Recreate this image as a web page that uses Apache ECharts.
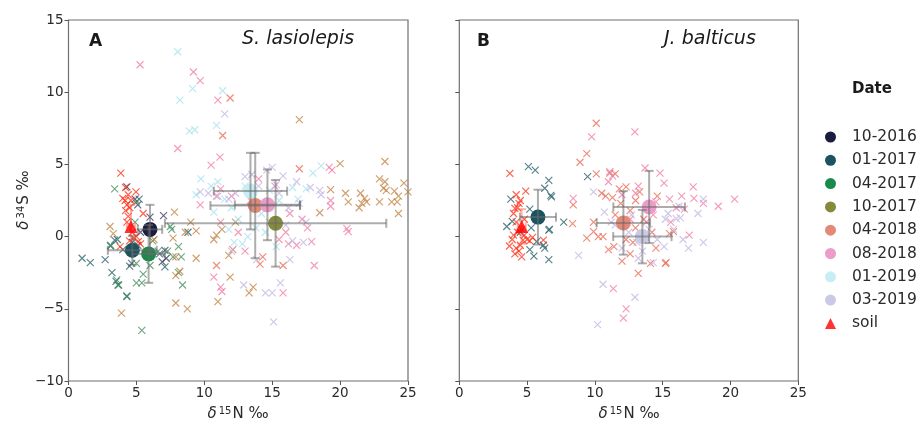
<!DOCTYPE html>
<html><head><meta charset="utf-8">
<script src="https://cdn.jsdelivr.net/npm/echarts@6/dist/echarts.min.js"></script>
<style>html,body{margin:0;padding:0;background:#fff}#c{width:917px;height:423px}</style>
</head><body><div id="c"></div>
<script>
// ---------- data ----------
const dates = ['10-2016','01-2017','04-2017','10-2017','04-2018','08-2018','01-2019','03-2019','soil'];
const meanColors = ['#1b1d3e','#1b5460','#1a8a4a','#858a3c','#e48878','#eb9cc8','#c8eef4','#cacae6','#ff0000'];
const pointColors = ['#2f3258','#1d5a64','#3f8c58','#c27f3e','#e8654f','#f07aa0','#a4e0ee','#c2b4e2','#ff2a10'];
const xTicks = [0,5,10,15,20,25];
const yTicks = [-10,-5,0,5,10,15];

// Panel A individual samples [d15N, d34S]
const A_1016 = [[4.3,3.45],[5.1,2.2],[4.9,2.6],[6.0,1.35],[7.0,1.45],[7.1,-0.95],[7.2,-1.5],[6.9,-1.75],[5.3,0.3],[4.7,-0.4]];
const A_0117 = [[1.0,-1.5],[1.6,-1.8],[2.7,-1.6],[3.2,-2.5],[3.5,-3.1],[3.65,-3.35],[4.3,-4.15],[3.1,-0.65],[3.4,-0.25],[3.6,-0.2],[4.65,-1.85],[4.5,-2.05],[5.2,2.6],[7.1,-2.1],[8.8,0.3],[4.0,-0.9],[5.1,-0.6],[6.7,-1.2]];
const A_0417 = [[3.4,3.3],[3.1,-0.6],[5.4,-6.5],[7.7,-1.4],[8.3,-1.4],[8.1,-0.7],[7.6,0.5],[8.4,-3.35],[5.0,-1.85],[5.5,-2.6],[5.4,-3.2],[5.0,-3.2],[3.55,-3.0],[3.7,-3.35],[4.3,-4.1],[5.0,2.4],[4.9,1.0],[7.5,0.7],[6.2,-0.3],[6.6,-1.0],[7.3,-1.0],[6.0,-2.0],[8.1,-2.5]];
const A_1017 = [[17.0,8.1],[20.0,5.05],[23.3,5.2],[22.9,4.0],[23.3,3.8],[23.2,3.35],[23.4,3.2],[24.7,3.7],[24.0,3.15],[24.3,2.8],[24.2,2.4],[23.8,2.4],[22.9,2.4],[24.3,1.6],[25.0,3.1],[21.5,3.0],[21.8,2.65],[21.95,2.4],[21.6,2.3],[21.4,2.0],[20.4,3.0],[20.6,2.4],[19.3,3.25],[18.5,1.65],[10.7,-0.2],[10.9,0.1],[11.8,-1.3],[11.9,-2.8],[11.0,-4.5],[13.3,-3.9],[7.8,1.7],[7.7,-0.1],[7.9,-1.4],[8.2,-2.4],[7.9,-2.7],[7.9,-4.6],[8.75,-5.0],[9.4,0.4],[9.4,-1.5],[3.06,0.7],[3.3,0.2],[3.9,-5.3],[6.3,-0.2],[11.3,0.5],[9.0,1.0],[12.3,1.0],[13.6,-3.5],[8.6,0.3]];
const A_0418 = [[11.9,9.6],[11.35,7.0],[14.3,-1.4],[14.1,-1.9],[15.8,-2.0],[12.1,-0.9],[17.0,4.7],[10.9,-2.0]];
const A_0818 = [[5.27,11.9],[9.2,11.4],[9.7,10.8],[11.0,9.45],[8.04,6.1],[11.15,5.5],[10.5,4.95],[19.2,4.8],[19.4,4.6],[10.7,-2.8],[11.2,-3.5],[11.3,-3.8],[15.8,-3.9],[17.9,-0.35],[20.5,0.55],[20.6,0.35],[18.1,-2.0],[19.3,2.5],[19.3,2.1],[16.3,1.6],[9.7,2.2],[11.2,1.0],[12.0,2.8],[15.2,3.5],[16.8,-0.6],[17.6,0.6],[16.0,0.3],[13.0,-1.0],[15.5,-0.2],[10.9,2.8],[14.0,4.0],[17.2,1.2],[16.2,-0.5],[12.5,0.3],[13.4,2.5],[11.2,3.3]];
const A_0119 = [[8.04,12.8],[9.14,10.25],[8.2,9.45],[11.35,10.1],[10.9,7.7],[8.9,7.3],[9.3,7.4],[9.75,4.0],[9.4,2.9],[18.6,4.9],[18.0,4.4],[15.3,-0.7],[10.5,3.5],[11.0,3.8],[11.5,2.6],[12.0,2.0],[12.5,1.2],[13.0,3.5],[13.6,2.8],[14.2,1.6],[14.8,3.2],[15.5,2.5],[16.5,3.4],[17.5,3.3],[12.2,-0.4],[13.8,0.6],[11.8,0.5],[12.8,-0.5],[10.7,1.7],[16.9,2.6],[14.5,0.3],[13.2,0.0]];
const A_0319 = [[11.5,8.5],[9.7,3.1],[10.3,3.0],[13.0,4.15],[14.6,4.6],[15.0,4.8],[15.8,4.2],[16.8,3.8],[12.9,-3.35],[14.5,-3.9],[15.0,-3.9],[15.6,-3.2],[15.1,-5.9],[16.3,-1.6],[13.85,-1.6],[12.3,3.0],[11.8,2.6],[14.0,3.5],[15.5,3.0],[16.2,2.0],[17.0,2.3],[17.8,3.4],[18.5,3.2],[16.5,-0.3],[17.3,-0.4],[12.0,-1.0],[13.5,4.3],[16.0,0.8],[17.5,1.0],[18.6,2.9],[11.0,2.8],[14.8,1.0],[15.3,3.6]];
const A_soil = [[3.85,4.4],[4.0,2.65],[4.97,3.1],[4.17,2.5],[4.4,2.9],[4.3,2.2],[4.5,2.0],[4.4,1.4],[5.5,1.6],[4.8,-0.1],[5.15,-0.35],[3.8,-0.7],[4.2,3.4],[4.6,2.5],[4.3,1.0],[4.7,0.3],[5.0,0.0],[4.5,-0.3],[5.3,-0.5],[4.2,1.8]];

// Panel B individual samples
const B_0117 = [[5.1,4.85],[5.6,4.6],[6.6,3.9],[6.3,3.35],[6.8,2.75],[6.75,2.85],[3.8,2.6],[5.2,1.9],[3.5,0.7],[3.9,1.05],[7.7,1.0],[6.6,0.45],[6.65,0.5],[5.7,-0.35],[6.2,-0.6],[5.2,-0.9],[5.5,-1.35],[6.6,-1.6],[9.46,4.15],[4.5,0.3],[5.3,0.6],[6.3,-0.8]];
const B_0418 = [[10.1,7.85],[9.4,5.75],[8.9,5.15],[10.1,4.35],[11.1,4.4],[11.5,4.35],[8.4,2.2],[8.35,0.9],[9.9,1.0],[9.4,-0.1],[9.9,0.35],[10.25,0.0],[10.6,0.0],[11.0,-0.9],[11.4,-0.7],[12.0,-1.7],[12.3,3.45],[13.3,3.1],[13.2,-2.55],[14.1,-1.85],[15.2,-1.85],[15.25,-1.8],[15.8,0.35],[10.5,3.0],[11.3,2.7],[11.9,2.3],[12.6,1.8],[13.0,2.5],[13.6,1.2],[12.8,-0.4],[12.3,-0.2],[13.0,0.6],[14.2,0.3],[14.5,-0.8],[11.5,1.5],[12.6,-1.2],[14.6,2.8],[15.5,0.2],[10.8,2.8],[11.8,3.3]];
const B_0818 = [[12.95,7.25],[9.76,6.9],[13.7,4.75],[8.4,2.65],[11.1,4.5],[11.3,4.2],[14.8,4.4],[15.1,3.7],[17.25,3.45],[17.3,2.65],[18.0,2.3],[19.1,2.1],[20.3,2.6],[16.4,2.8],[16.96,0.1],[11.36,-3.6],[12.3,-5.0],[12.1,-5.65],[13.0,3.0],[14.5,2.4],[15.5,2.6],[16.6,1.9],[13.8,1.0],[14.3,1.5],[11.0,3.8],[12.0,2.9],[15.6,1.0],[13.2,3.5],[14.0,2.2],[16.0,2.0],[12.6,1.2]];
const B_0319 = [[9.9,3.1],[10.7,1.7],[8.8,-1.3],[10.6,-3.3],[10.2,-6.1],[12.95,-4.2],[15.4,1.6],[16.0,1.25],[16.3,1.3],[17.6,1.6],[18.0,2.6],[18.0,-0.4],[16.9,-0.8],[15.1,-0.7],[13.2,-1.5],[12.5,0.3],[13.1,-0.4],[14.0,0.5],[13.5,-1.0],[14.6,-0.2],[15.8,0.5],[16.5,-0.2],[12.0,-0.8],[11.2,1.0],[15.2,1.2],[14.3,-1.8],[16.2,2.1],[11.5,0.8],[13.8,-0.1],[12.7,1.5]];
const B_soil = [[3.73,4.38],[4.2,2.9],[4.5,2.5],[4.1,1.95],[4.9,3.15],[4.4,2.3],[4.0,1.6],[4.2,1.0],[3.7,-0.65],[4.2,-0.8],[4.1,-1.2],[4.5,-0.6],[4.7,-0.25],[5.0,-0.2],[5.2,-0.3],[4.8,0.1],[6.2,-0.25],[3.9,-0.2],[4.4,-1.0],[4.6,0.5],[4.3,0.3],[5.4,-0.05],[4.0,0.1],[4.6,-1.4],[4.3,2.0],[4.8,1.2]];

// Group means [d15N, d34S, xerr, yerr]
const A_means = {'10-2016':[6.0,0.5,0.9,1.7],'01-2017':[4.7,-0.95,1.8,1.0],'04-2017':[5.9,-1.2,1.2,2.0],'10-2017':[15.25,0.92,8.15,3.0],'04-2018':[13.75,2.15,3.3,3.65],'08-2018':[14.65,2.2,2.4,2.45],'01-2019':[13.4,3.15,2.7,2.65]};
const B_means = {'01-2017':[5.8,1.35,1.33,1.9],'04-2018':[12.1,0.95,1.97,2.2],'08-2018':[14.0,2.05,2.64,2.5],'03-2019':[13.5,0.0,2.15,1.85]};
const A_soilMean = [4.6,0.7,0.3,1.5];
const B_soilMean = [4.6,0.7,0.3,1.2];

const A_points = {'10-2016':A_1016,'01-2017':A_0117,'04-2017':A_0417,'10-2017':A_1017,'04-2018':A_0418,'08-2018':A_0818,'01-2019':A_0119,'03-2019':A_0319,'soil':A_soil};
const B_points = {'01-2017':B_0117,'04-2018':B_0418,'08-2018':B_0818,'03-2019':B_0319,'soil':B_soil};

// ---------- chart ----------
const FONT = 'DejaVu Sans';
const chart = echarts.init(document.getElementById('c'), null, {renderer:'canvas'});
const xSym = 'path://M0,0L10,10M0,10L10,0';
const minus = v => String(v).replace('-', '\u2212');

function errRender(stroke){
  return function(params, api){
    const x = api.value(0), y = api.value(1), xe = api.value(2), ye = api.value(3);
    const l = api.coord([x-xe,y]), r = api.coord([x+xe,y]);
    const t = api.coord([x,y+ye]), b = api.coord([x,y-ye]);
    const cap = 4.5;
    const st = {stroke: stroke, lineWidth: 2, fill: null};
    const L = (x1,y1,x2,y2) => ({type:'line', shape:{x1,y1,x2,y2}, style: st});
    return {type:'group', children:[
      L(l[0],l[1],r[0],r[1]), L(l[0],l[1]-cap,l[0],l[1]+cap), L(r[0],r[1]-cap,r[0],r[1]+cap),
      L(t[0],t[1],b[0],b[1]), L(t[0]-cap,t[1],t[0]+cap,t[1]), L(b[0]-cap,b[1],b[0]+cap,b[1])
    ]};
  };
}

const series = [];
[[A_points,0],[B_points,1]].forEach(([pts,gi])=>{
  dates.forEach((d,i)=>{
    if(!pts[d]) return;
    series.push({type:'scatter', name:'pts '+d, xAxisIndex:gi, yAxisIndex:gi, data:pts[d],
      symbol:xSym, symbolSize:7, z:2, silent:true,
      itemStyle:{color:'none', borderColor:pointColors[i], borderWidth:1.15, opacity:0.75}});
  });
});
[[A_means,A_soilMean,0],[B_means,B_soilMean,1]].forEach(([means,soil,gi])=>{
  dates.forEach((d,i)=>{
    if(d==='soil'){
      series.push({type:'scatter', name:'soil', xAxisIndex:gi, yAxisIndex:gi, data:[[soil[0],soil[1]]],
        symbol:'triangle', symbolSize:13, z:5, itemStyle:{color:meanColors[i]}});
      series.push({type:'custom', name:'soil err', xAxisIndex:gi, yAxisIndex:gi, data:[soil], z:4,
        encode:{x:0,y:1}, renderItem: errRender('rgba(255,90,70,0.45)')});
      return;
    }
    if(!means[d]) return;
    const m = means[d];
    series.push({type:'scatter', name:d, xAxisIndex:gi, yAxisIndex:gi, data:[[m[0],m[1]]],
      symbol:'circle', symbolSize:15, z:5, itemStyle:{color:meanColors[i], opacity:1}});
    series.push({type:'custom', name:'err '+d, xAxisIndex:gi, yAxisIndex:gi, data:[m], z:6,
      encode:{x:0,y:1}, renderItem: errRender('rgba(105,105,105,0.55)')});
  });
});

const axisCommon = {
  min:0, max:25, interval:5,
  axisLine:{show:false, onZero:false}, splitLine:{show:false},
  axisTick:{show:true, inside:false, length:4, lineStyle:{color:'#555', width:1}},
  axisLabel:{fontFamily:FONT, fontSize:13.5, color:'#2a2a2a', margin:5, formatter:minus}
};
const yCommon = Object.assign({}, axisCommon, {min:-10, max:15, interval:5});

const richLabel = {
  d:{fontFamily:FONT, fontSize:15, fontStyle:'italic', fill:'#2a2a2a', verticalAlign:'bottom'},
  s:{fontFamily:FONT, fontSize:10, fill:'#2a2a2a', verticalAlign:'top', padding:[0,1,0,2]},
  n:{fontFamily:FONT, fontSize:15, fill:'#2a2a2a', verticalAlign:'bottom'}
};

const option = {
  backgroundColor:'#fff',
  animation:false,
  textStyle:{fontFamily:FONT},
  grid:[
    {left:68.5, top:20, width:339.5, height:361, show:true, borderColor:'#6f6f6f', borderWidth:1.2, backgroundColor:'transparent'},
    {left:459.3, top:20, width:339, height:361, show:true, borderColor:'#6f6f6f', borderWidth:1.2, backgroundColor:'transparent'}
  ],
  xAxis:[Object.assign({gridIndex:0,type:'value',position:'bottom'}, axisCommon), Object.assign({gridIndex:1,type:'value',position:'bottom'}, axisCommon)],
  yAxis:[
    Object.assign({gridIndex:0,type:'value',position:'left'}, yCommon),
    Object.assign({gridIndex:1,type:'value',position:'left'}, yCommon, {axisLabel:{show:false}})
  ],
  title:[
    {text:'A', left:84, top:28, textStyle:{fontFamily:FONT, fontSize:17, fontWeight:'bold', color:'#1a1a1a'}},
    {text:'S. lasiolepis', left:237, top:25, textStyle:{fontFamily:FONT, fontSize:19, fontStyle:'italic', fontWeight:'normal', color:'#1a1a1a'}},
    {text:'B', left:472, top:28, textStyle:{fontFamily:FONT, fontSize:17, fontWeight:'bold', color:'#1a1a1a'}},
    {text:'J. balticus', left:659, top:25, textStyle:{fontFamily:FONT, fontSize:19, fontStyle:'italic', fontWeight:'normal', color:'#1a1a1a'}},
    {text:'Date', left:847, top:77, textStyle:{fontFamily:FONT, fontSize:15, fontWeight:'bold', color:'#1a1a1a'}}
  ],
  legend:{
    orient:'vertical', left:820, top:124, itemGap:7.3, itemWidth:11, itemHeight:11,
    selectedMode:false,
    data: dates.map((d,i)=>({name:d, icon: d==='soil' ? 'triangle' : 'circle'})),
    textStyle:{fontFamily:FONT, fontSize:15.5, color:'#2a2a2a', lineHeight:16, padding:[0,0,0,11]}
  },
  graphic:[
    {type:'text', x:238, y:414, style:{text:'{d|δ}{s|15}{n|N ‰}', align:'center', verticalAlign:'middle', rich:richLabel}},
    {type:'text', x:629, y:414, style:{text:'{d|δ}{s|15}{n|N ‰}', align:'center', verticalAlign:'middle', rich:richLabel}},
    {type:'text', x:24, y:200, rotation:Math.PI/2, style:{text:'{d|δ}{s|34}{n|S ‰}', align:'center', verticalAlign:'middle', rich:richLabel}}
  ],
  series: series
};
chart.setOption(option);
</script>
</body></html>
